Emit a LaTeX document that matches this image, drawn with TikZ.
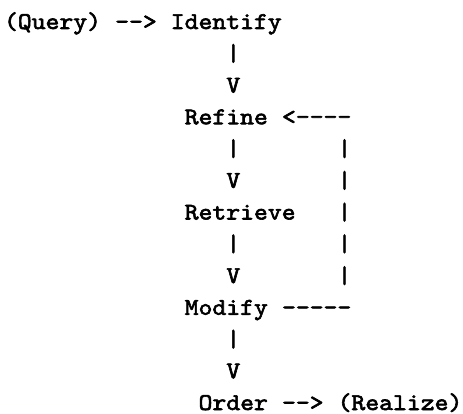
\documentclass[tikz,border=0pt]{standalone}
\usepackage{fontspec}
\newfontfamily\asciifont{lmmono10-regular.otf}[FakeBold=2.5,FakeStretch=1.1]
\tikzset{
  txt/.style={anchor=base west, inner sep=0pt, outer sep=0pt,
    font=\asciifont\fontsize{24pt}{24pt}\selectfont}
}
\newcommand\cw{13.9}
\newcommand\xo{4}
\newcommand\yo{29}
\newcommand\lh{31.75}
\begin{document}
\begin{tikzpicture}[x=1pt,y=1pt]
\useasboundingbox (0,-414) rectangle (463,0);
% row 1
\node[txt] (query) at ({\xo+0*\cw},{-(\yo+0*\lh)}) {(Query)};
\node[txt] (a1)    at ({\xo+8*\cw},{-(\yo+0*\lh)}) {-{}->};
\node[txt] (ident) at ({\xo+12*\cw},{-(\yo+0*\lh)}) {Identify};
% rows 2-3
\node[txt] (b1) at ({\xo+16*\cw},{-(\yo+1*\lh)}) {|};
\node[txt] (v1) at ({\xo+16*\cw},{-(\yo+2*\lh)}) {V};
% row 4
\node[txt] (refine) at ({\xo+13*\cw},{-(\yo+3*\lh)}) {Refine};
\node[txt] (back)   at ({\xo+20*\cw},{-(\yo+3*\lh)}) {<-{}-{}-{}-};
% rows 5-6
\node[txt] (b2) at ({\xo+16*\cw},{-(\yo+4*\lh)}) {|};
\node[txt] (r1) at ({\xo+24*\cw},{-(\yo+4*\lh)}) {|};
\node[txt] (v2) at ({\xo+16*\cw},{-(\yo+5*\lh)}) {V};
\node[txt] (r2) at ({\xo+24*\cw},{-(\yo+5*\lh)}) {|};
% row 7
\node[txt] (retrieve) at ({\xo+13*\cw},{-(\yo+6*\lh)}) {Retrieve};
\node[txt] (r3) at ({\xo+24*\cw},{-(\yo+6*\lh)}) {|};
% rows 8-9
\node[txt] (b3) at ({\xo+16*\cw},{-(\yo+7*\lh)}) {|};
\node[txt] (r4) at ({\xo+24*\cw},{-(\yo+7*\lh)}) {|};
\node[txt] (v3) at ({\xo+16*\cw},{-(\yo+8*\lh)}) {V};
\node[txt] (r5) at ({\xo+24*\cw},{-(\yo+8*\lh)}) {|};
% row 10
\node[txt] (modify) at ({\xo+13*\cw},{-(\yo+9*\lh)}) {Modify};
\node[txt] (loop)   at ({\xo+20*\cw},{-(\yo+9*\lh)}) {-{}-{}-{}-{}-};
% rows 11-12
\node[txt] (b4) at ({\xo+16*\cw},{-(\yo+10*\lh)}) {|};
\node[txt] (v4) at ({\xo+16*\cw},{-(\yo+11*\lh)}) {V};
% row 13
\node[txt] (order)   at ({\xo+14*\cw},{-(\yo+12*\lh)}) {Order};
\node[txt] (a2)      at ({\xo+20*\cw},{-(\yo+12*\lh)}) {-{}->};
\node[txt] (realize) at ({\xo+24*\cw},{-(\yo+12*\lh)}) {(Realize)};
\end{tikzpicture}
\end{document}
